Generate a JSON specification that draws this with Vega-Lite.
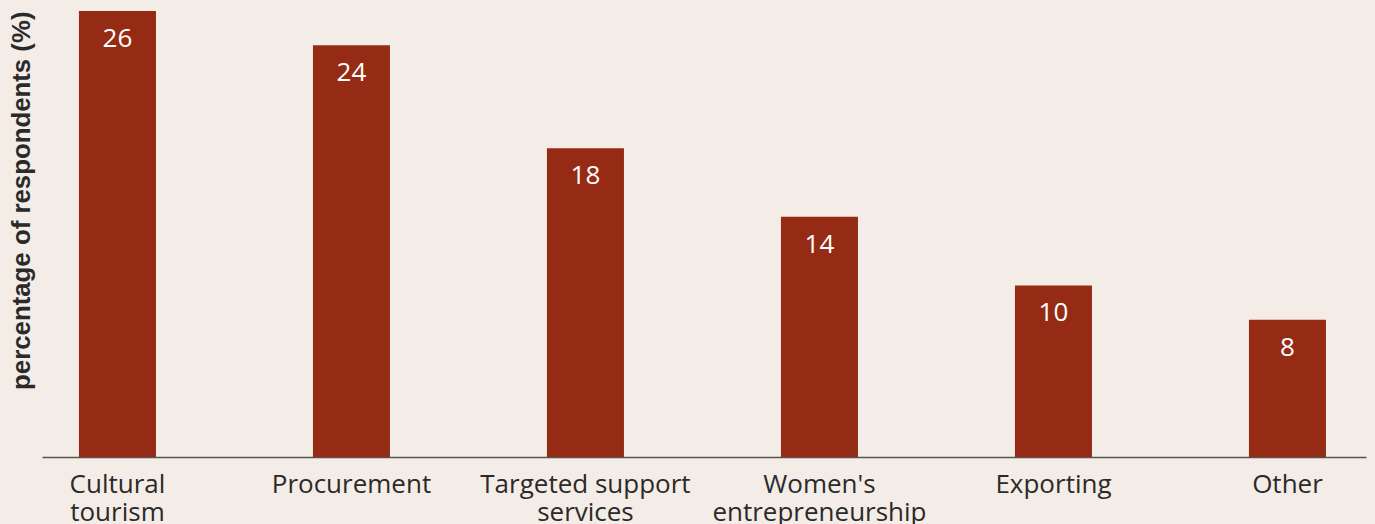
{
  "$schema": "https://vega.github.io/schema/vega-lite/v6.json",
  "autosize": {"type": "none"},
  "width": 1324,
  "height": 446,
  "padding": {"left": 42, "top": 11, "right": 9, "bottom": 67},
  "background": "#f4ece6",
  "config": {"view": {"stroke": null}},
  "data": {"values": [
    {"category": "Cultural tourism", "value": 26},
    {"category": "Procurement", "value": 24},
    {"category": "Targeted support services", "value": 18},
    {"category": "Women's entrepreneurship", "value": 14},
    {"category": "Exporting", "value": 10},
    {"category": "Other", "value": 8}
  ]},
  "encoding": {
    "x": {
      "field": "category", "type": "nominal", "sort": null,
      "scale": {"paddingInner": 0.6709, "paddingOuter": 0.1645, "align": 0.48},
      "axis": {
        "title": null, "labelAngle": 0, "ticks": false,
        "domainColor": "#555555", "domainWidth": 1.5,
        "labelFont": "Open Sans", "labelFontSize": 26, "labelColor": "#2a2a2a",
        "labelPadding": 14, "labelLineHeight": 28, "labelLimit": 0,
        "labelExpr": "datum.value == 'Cultural tourism' ? ['Cultural', 'tourism'] : datum.value == 'Targeted support services' ? ['Targeted support', 'services'] : datum.value == \"Women's entrepreneurship\" ? [\"Women's\", 'entrepreneurship'] : datum.value"
      }
    },
    "y": {
      "field": "value", "type": "quantitative",
      "scale": {"domain": [0, 26], "nice": false},
      "axis": {
        "title": "percentage of respondents (%)", "labels": false, "ticks": false,
        "domain": false, "grid": false,
        "titleFont": "Liberation Sans", "titleFontSize": 25.8, "titleFontWeight": "bold",
        "titleColor": "#2a2a2a", "titleAnchor": "end", "titlePadding": 8
      }
    }
  },
  "layer": [
    {"mark": {"type": "bar", "color": "#952b14"}},
    {"mark": {"type": "text", "color": "#ffffff", "font": "Open Sans", "fontSize": 26, "baseline": "middle", "dy": 28},
     "encoding": {"text": {"field": "value", "type": "quantitative"}}}
  ]
}
